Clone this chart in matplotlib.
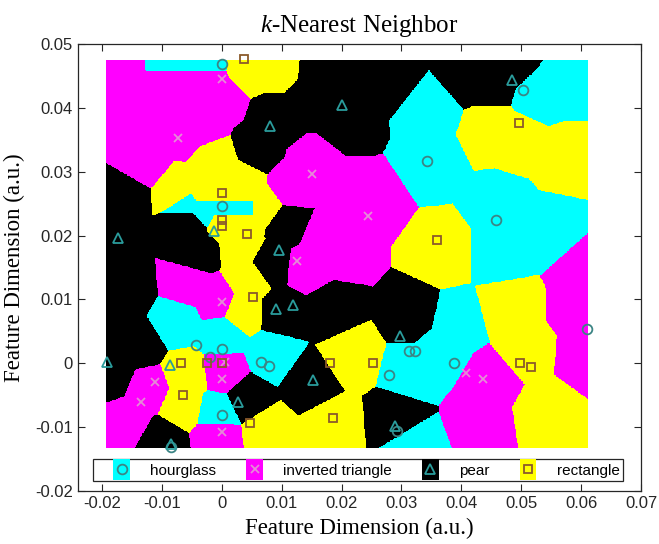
import numpy as np
import matplotlib
matplotlib.use("Agg")
import matplotlib.pyplot as plt
from matplotlib.colors import ListedColormap
from matplotlib.patches import Patch, Rectangle
from matplotlib.lines import Line2D
from matplotlib.legend_handler import HandlerPatch

plt.rcParams["mathtext.fontset"] = "custom"
plt.rcParams["mathtext.it"] = "Liberation Serif:italic"
plt.rcParams["mathtext.rm"] = "Liberation Serif"

# classes: 0 hourglass, 1 inverted triangle, 2 pear, 3 rectangle
class_names = ["hourglass", "inverted triangle", "pear", "rectangle"]
region_colors = ["#00ffff", "#ff00ff", "#000000", "#ffff00"]
marker_styles = ["o", "x", "^", "s"]
marker_sizes = [7, 6, 7, 6]
marker_colors = ["#3c8585", "#e58ad6", "#2a9c9c", "#8b5a2b"]

# observed samples
hourglass_x = [0.0, 0.0503, 0.0343, 0.0457, 0.0, -0.0043, 0.0, -0.0019, 0.0065, 0.0079,
               0.0, -0.0085, 0.0313, 0.0323, 0.0388, 0.0280, 0.0292, 0.0609]
hourglass_y = [0.0468, 0.0428, 0.0317, 0.0225, 0.0247, 0.0029, 0.0022, 0.0010, 0.0002, -0.0004,
               -0.0081, -0.0131, 0.0019, 0.0020, 0.0000, -0.0019, -0.0106, 0.0054]
invtri_x = [0.0, -0.0072, 0.0150, 0.0245, 0.0125, 0.0, 0.0006, 0.0, -0.0111, -0.0134,
            0.0, 0.0408, 0.0436]
invtri_y = [0.0445, 0.0353, 0.0296, 0.0231, 0.0160, 0.0096, 0.0002, -0.0024, -0.0030, -0.0061,
            -0.0108, -0.0015, -0.0025]
pear_x = [0.0485, 0.0200, 0.0081, -0.0013, -0.0173, 0.0096, 0.0090, 0.0119, -0.0086, -0.0191,
          0.0153, 0.0028, -0.0085, 0.0297, 0.0290]
pear_y = [0.0443, 0.0405, 0.0372, 0.0207, 0.0196, 0.0178, 0.0085, 0.0092, -0.0003, 0.0002,
          -0.0026, -0.0061, -0.0126, 0.0043, -0.0098]
rect_x = [0.0038, 0.0496, 0.0, 0.0, 0.0, 0.0043, 0.0360, 0.0053, -0.0068, -0.0024,
          0.0, -0.0065, 0.0047, 0.0180, 0.0253, 0.0497, 0.0516, 0.0186]
rect_y = [0.0476, 0.0376, 0.0267, 0.0225, 0.0215, 0.0203, 0.0193, 0.0104, 0.0, 0.0,
          0.0, -0.0050, -0.0093, 0.0, 0.0, 0.0, -0.0006, -0.0086]

# reference (training) points that define the nearest-neighbour regions, grouped by class
train_hourglass_x = [-0.0091, -0.0033, 0.0565, 0.0532,
                     0.0346, 0.0349, 0.0465, 0.0540, 0.0465,
                     -0.0058, -0.0033, 0.0008, 0.0038,
                     -0.0075, 0.0, 0.0083, -0.0007,
                     0.0365, 0.0316, 0.0390, 0.0316]
train_hourglass_y = [0.0471, 0.0471, 0.0435, 0.0420,
                     0.0396, 0.0318, 0.0177, 0.0208, 0.0247,
                     0.0250, 0.0244, 0.0244, 0.0244,
                     0.0067, 0.0044, 0.0013, -0.0077,
                     0.0020, -0.0011, 0.0060, -0.0128]
train_invtri_x = [-0.0166, -0.0091, -0.0033, -0.0150, -0.0058, -0.0008, -0.0033, -0.0066, -0.0133,
                  0.0150, 0.0116, 0.0208, 0.0249, 0.0199, 0.0166, 0.0141,
                  -0.0058, -0.0008, 0.0003, -0.0008, -0.0158, -0.0125,
                  0.0449, 0.0432, 0.0606, 0.0598, 0.0606]
train_invtri_y = [0.0462, 0.0446, 0.0446, 0.0396, 0.0404, 0.0412, 0.0377, 0.0365, 0.0318,
                  0.0310, 0.0279, 0.0271, 0.0255, 0.0177, 0.0193, 0.0153,
                  0.0122, 0.0099, -0.0014, -0.0114, -0.0089, -0.0042,
                  -0.0027, -0.0089, 0.0138, 0.0083, 0.0013]
train_pear_x = [0.0091, 0.0058, 0.0150, 0.0166, 0.0208, 0.0279, 0.0412, 0.0449, 0.0482,
                0.0108, 0.0083,
                -0.0166, -0.0058, -0.0042, -0.0158, -0.0141, -0.0183,
                -0.0100, 0.0042, 0.0146, 0.0100, 0.0183, 0.0316, 0.0291]
train_pear_y = [0.0381, 0.0334, 0.0412, 0.0459, 0.0381, 0.0446, 0.0451, 0.0443, 0.0471,
                0.0216, 0.0158,
                0.0263, 0.0221, 0.0177, 0.0114, 0.0028, -0.0019,
                -0.0121, -0.0055, -0.0030, 0.0080, 0.0083, 0.0075, -0.0089]
train_rect_x = [0.0050, 0.0091, 0.0498, 0.0565, 0.0449, 0.0365,
                0.0033, -0.0008, -0.0070, -0.0033, 0.0008, 0.0038, 0.0008, 0.0038, 0.0066,
                0.0033, 0.0042, 0.0033,
                -0.0058, -0.0066, 0.0075, 0.0183, 0.0216,
                0.0507, 0.0540, 0.0482]
train_rect_y = [0.0467, 0.0467, 0.0349, 0.0326, 0.0365, 0.0177,
                0.0287, 0.0315, 0.0268, 0.0266, 0.0266, 0.0266, 0.0222, 0.0222, 0.0244,
                0.0185, 0.0130, 0.0083,
                -0.0019, -0.0066, -0.0105, -0.0097, 0.0013,
                0.0020, -0.0074, 0.0083]

x_range = (-0.0193, 0.0610)
y_range = (-0.0132, 0.0475)

train_x = np.array(train_hourglass_x + train_invtri_x + train_pear_x + train_rect_x)
train_y = np.array(train_hourglass_y + train_invtri_y + train_pear_y + train_rect_y)
train_label = np.repeat([0, 1, 2, 3], [len(train_hourglass_x), len(train_invtri_x),
                                       len(train_pear_x), len(train_rect_x)])

# 1-nearest-neighbour classification on a grid
gx = np.linspace(x_range[0], x_range[1], 700)
gy = np.linspace(y_range[0], y_range[1], 560)
GX, GY = np.meshgrid(gx, gy)
d2 = (GX[..., None] - train_x) ** 2 + (1.06 * (GY[..., None] - train_y)) ** 2
labels = train_label[np.argmin(d2, axis=-1)]

fig = plt.figure(figsize=(6.59, 5.44), dpi=100)
ax = fig.add_axes([0.118, 0.0974, 0.855, 0.8217])

ax.imshow(labels, origin="lower", extent=[x_range[0], x_range[1], y_range[0], y_range[1]],
          cmap=ListedColormap(region_colors), vmin=-0.5, vmax=3.5,
          interpolation="nearest", aspect="auto", zorder=1)

samples = [(hourglass_x, hourglass_y), (invtri_x, invtri_y), (pear_x, pear_y), (rect_x, rect_y)]
for i, (xs, ys) in enumerate(samples):
    ax.plot(xs, ys, linestyle="none", marker=marker_styles[i], markersize=marker_sizes[i],
            markerfacecolor="none", markeredgecolor=marker_colors[i],
            markeredgewidth=1.3, zorder=3)

ax.set_xlim(-0.024, 0.07)
ax.set_ylim(-0.02, 0.05)
ax.set_xticks([-0.02, -0.01, 0, 0.01, 0.02, 0.03, 0.04, 0.05, 0.06, 0.07])
ax.set_xticklabels(["-0.02", "-0.01", "0", "0.01", "0.02", "0.03", "0.04", "0.05", "0.06", "0.07"])
ax.set_yticks([-0.02, -0.01, 0, 0.01, 0.02, 0.03, 0.04, 0.05])
ax.set_yticklabels(["-0.02", "-0.01", "0", "0.01", "0.02", "0.03", "0.04", "0.05"])
ax.tick_params(direction="in", top=True, right=True, length=5, width=0.8,
               labelsize=12, colors="#262626")
for lab in ax.get_xticklabels() + ax.get_yticklabels():
    lab.set_family("Liberation Sans")
for sp in ax.spines.values():
    sp.set_color("#262626")
    sp.set_linewidth(0.9)

serif = "Liberation Serif"
ax.set_xlabel("Feature Dimension (a.u.)", family=serif, fontsize=16.5, labelpad=5)
ax.set_ylabel("Feature Dimension (a.u.)", family=serif, fontsize=16.5, labelpad=7)
ax.set_title(r"$k$-Nearest Neighbor", family=serif, fontsize=18, pad=9)


def narrow_patch(legend, orig_handle, xdescent, ydescent, width, height, fontsize):
    # coloured block narrower than the handle box and a bit taller than the text row
    w = 12
    extra = 2.6
    return Rectangle((-xdescent + (width - w) / 2, -ydescent - extra), w, height + 2 * extra)


handles = []
for i in range(4):
    patch = Patch(facecolor=region_colors[i], edgecolor="none")
    mark = Line2D([], [], linestyle="none", marker=marker_styles[i], markersize=marker_sizes[i],
                  markerfacecolor="none", markeredgecolor=marker_colors[i], markeredgewidth=1.3)
    handles.append((patch, mark))
leg = ax.legend(handles, class_names, loc="lower center", bbox_to_anchor=(0.497, 0.022),
                ncol=4, frameon=True, fancybox=False, framealpha=1, edgecolor="#262626",
                handlelength=3.34, handleheight=1.0, handletextpad=0.2, columnspacing=0.85,
                borderpad=0.22, borderaxespad=0,
                handler_map={Patch: HandlerPatch(patch_func=narrow_patch)},
                prop={"family": "Liberation Sans", "size": 11})
leg.get_frame().set_linewidth(0.9)

fig.savefig("out.png", dpi=100)
